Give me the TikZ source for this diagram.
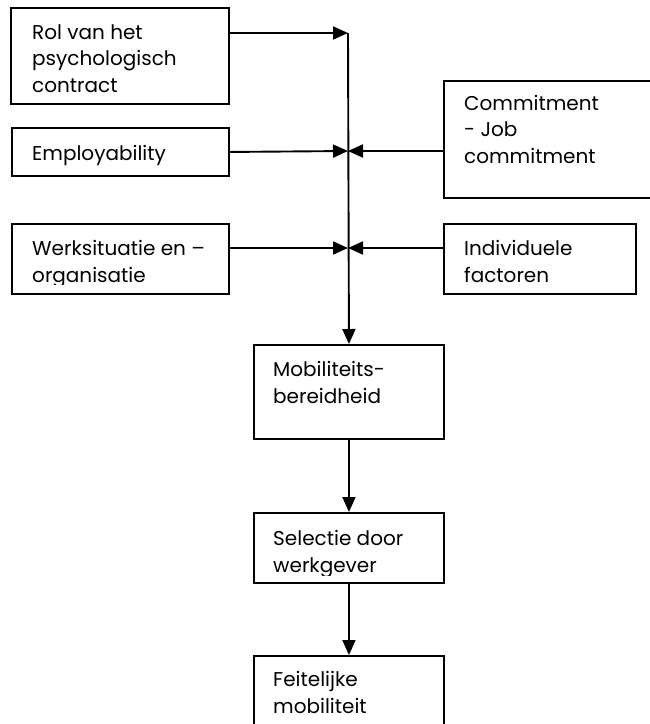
\documentclass[tikz,border=0pt]{standalone}
\usepackage{fontspec}
\setmainfont{Poppins}
\usetikzlibrary{arrows.meta}
\begin{document}
\begin{tikzpicture}[x=1pt,y=-1pt,
  box/.style={draw, line width=1.9pt, inner sep=0pt, anchor=north west},
  % multi-line labels are placed by the baseline of their last line
  txt/.style={inner sep=0pt, anchor=base west, align=left,
              font=\fontsize{20}{26.5}\selectfont},
  flow/.style={line width=1.9pt, -{Triangle[length=15pt,width=13pt]}},
]
\useasboundingbox (0,0) rectangle (650,724);

% boxes
\node[box, minimum width=218pt, minimum height=96pt]  (rol)    at (10,7)   {};
\node[box, minimum width=217pt, minimum height=48pt]  (empl)   at (11,127) {};
\node[box, minimum width=209pt, minimum height=117pt] (commit) at (443,80) {};
\node[box, minimum width=217pt, minimum height=70pt]  (werk)   at (11,223) {};
\node[box, minimum width=192pt, minimum height=70pt]  (indiv)  at (443,223) {};
\node[box, minimum width=190pt, minimum height=94pt]  (mob)    at (253,344) {};
\node[box, minimum width=190pt, minimum height=70pt]  (sel)    at (253,512) {};
\node[box, minimum width=190pt, minimum height=90pt]  (feit)   at (253,655) {};

% labels
\node[txt] (rolT)    at (32,92)   {Rol van het\\psychologisch\\contract};
\node[txt] (emplT)   at (32,160)  {Employability};
\node[txt] (commitT) at (464,163) {Commitment\\- Job\\commitment};
\begin{scope}
  \clip (0,223) rectangle (240,284);
  \node[txt] (werkT) at (32,282) {Werksituatie en –\\organisatie};
\end{scope}
\node[txt] (indivT)  at (464,282) {Individuele\\factoren};
\node[txt] (mobT)    at (273,403) {Mobiliteits-\\bereidheid};
\begin{scope}
  \clip (253,512) rectangle (443,575);
  \node[txt] (selT) at (273,572) {Selectie door\\werkgever};
\end{scope}
\node[txt] (feitT)   at (273,713) {Feitelijke\\mobiliteit};

% junctions on the central line
\coordinate (jR) at (348,33);
\coordinate (jE) at (348,151);
\coordinate (jW) at (348,248);

% connectors
\draw[flow] (rol.east |- jR) -- (jR);
\draw[flow] (empl.east) -- (jE);
\draw[flow] (commit.west |- jE) -- (jE);
\draw[flow] (werk.east |- jW) -- (jW);
\draw[flow] (indiv.west |- jW) -- (jW);
\draw[flow] (jR) -- (mob.north);
\draw[flow] (mob.south) -- (sel.north);
\draw[flow] (sel.south) -- (feit.north);
\end{tikzpicture}
\end{document}
